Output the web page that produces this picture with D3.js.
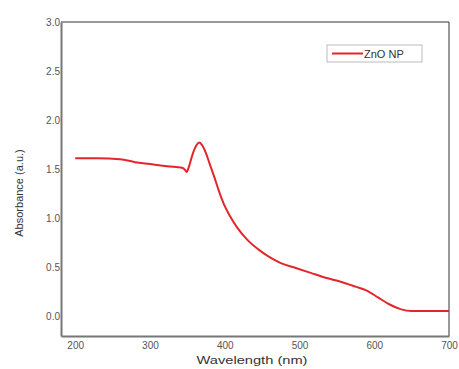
<!DOCTYPE html>
<html>
<head>
<meta charset="utf-8">
<script src="https://cdn.jsdelivr.net/npm/d3@7"></script>
<style>
  body { margin: 0; background: #fff; }
  svg { display: block; font-family: "Liberation Sans", Arial, sans-serif; }
</style>
</head>
<body>
<div id="chart"></div>
<script>
const width = 459;
const height = 369;

// absorbance spectrum
const wavelength = [200, 230, 260, 280, 300, 320, 335, 344, 347, 349, 352, 357, 362, 366, 370, 375, 380, 386, 392, 399, 407, 416, 430, 445, 460, 475, 495, 515, 535, 555, 575, 590, 605, 620, 635, 650, 670, 700];
const absorbance = [1.61, 1.61, 1.60, 1.57, 1.55, 1.53, 1.52, 1.51, 1.49, 1.47, 1.52, 1.65, 1.74, 1.77, 1.74, 1.66, 1.55, 1.42, 1.28, 1.14, 1.02, 0.91, 0.78, 0.68, 0.60, 0.54, 0.49, 0.44, 0.39, 0.35, 0.30, 0.26, 0.19, 0.12, 0.07, 0.05, 0.05, 0.05];
const xTicks = [200, 300, 400, 500, 600, 700];
const yTicks = [0.0, 0.5, 1.0, 1.5, 2.0, 2.5, 3.0];
const seriesName = "ZnO NP";

const margin = { top: 22, right: 10, bottom: 33, left: 61 };

const svg = d3.select("#chart").append("svg")
    .attr("width", width)
    .attr("height", height);

const x = d3.scaleLinear()
    .domain([181, 700])
    .range([margin.left, width - margin.right]);
const y = d3.scaleLinear()
    .domain([-0.204, 3.0])
    .range([height - margin.bottom, margin.top]);

// top + right frame
svg.append("path")
    .attr("d", `M${x.range()[0]},${y(3)}H${x.range()[1]}V${y.range()[0]}`)
    .attr("fill", "none")
    .attr("stroke", "#333")
    .attr("stroke-width", 1);

const xAxis = svg.append("g")
    .attr("transform", `translate(0,${y.range()[0]})`)
    .call(d3.axisBottom(x).tickValues(xTicks).tickSize(0).tickPadding(6).tickFormat(d3.format("d")));
const yAxis = svg.append("g")
    .attr("transform", `translate(${x.range()[0]},0)`)
    .call(d3.axisLeft(y).tickValues(yTicks).tickSize(0).tickPadding(1).tickFormat(d3.format(".1f")));

[xAxis, yAxis].forEach(g => {
    g.select(".domain").attr("stroke", "#777").attr("stroke-width", 2);
    g.selectAll("text").attr("fill", "#555").style("font-size", "10px");
});

const points = wavelength.map((w, i) => ({ w: w, a: absorbance[i] }));
const line = d3.line()
    .x(d => x(d.w))
    .y(d => y(d.a))
    .curve(d3.curveMonotoneX);

svg.append("path")
    .datum(points)
    .attr("d", line)
    .attr("fill", "none")
    .attr("stroke", "#e3262b")
    .attr("stroke-width", 2);

// legend
const legend = svg.append("g").attr("transform", "translate(327,45)");
legend.append("rect")
    .attr("width", 95).attr("height", 17)
    .attr("fill", "none").attr("stroke", "#aaa").attr("stroke-width", 0.8);
legend.append("line")
    .attr("x1", 5).attr("x2", 36).attr("y1", 8.5).attr("y2", 8.5)
    .attr("stroke", "#e3262b").attr("stroke-width", 2);
legend.append("text")
    .attr("x", 37).attr("y", 12.5)
    .attr("fill", "#333")
    .style("font-size", "11px")
    .text(seriesName);

svg.append("text")
    .attr("transform", "translate(23,193) rotate(-90)")
    .attr("text-anchor", "middle")
    .attr("fill", "#333")
    .style("font-size", "11px")
    .text("Absorbance (a.u.)");

svg.append("text")
    .attr("x", 252).attr("y", 364)
    .attr("text-anchor", "middle")
    .attr("fill", "#333")
    .attr("textLength", 111)
    .attr("lengthAdjust", "spacingAndGlyphs")
    .style("font-size", "11px")
    .text("Wavelength (nm)");
</script>
</body>
</html>
